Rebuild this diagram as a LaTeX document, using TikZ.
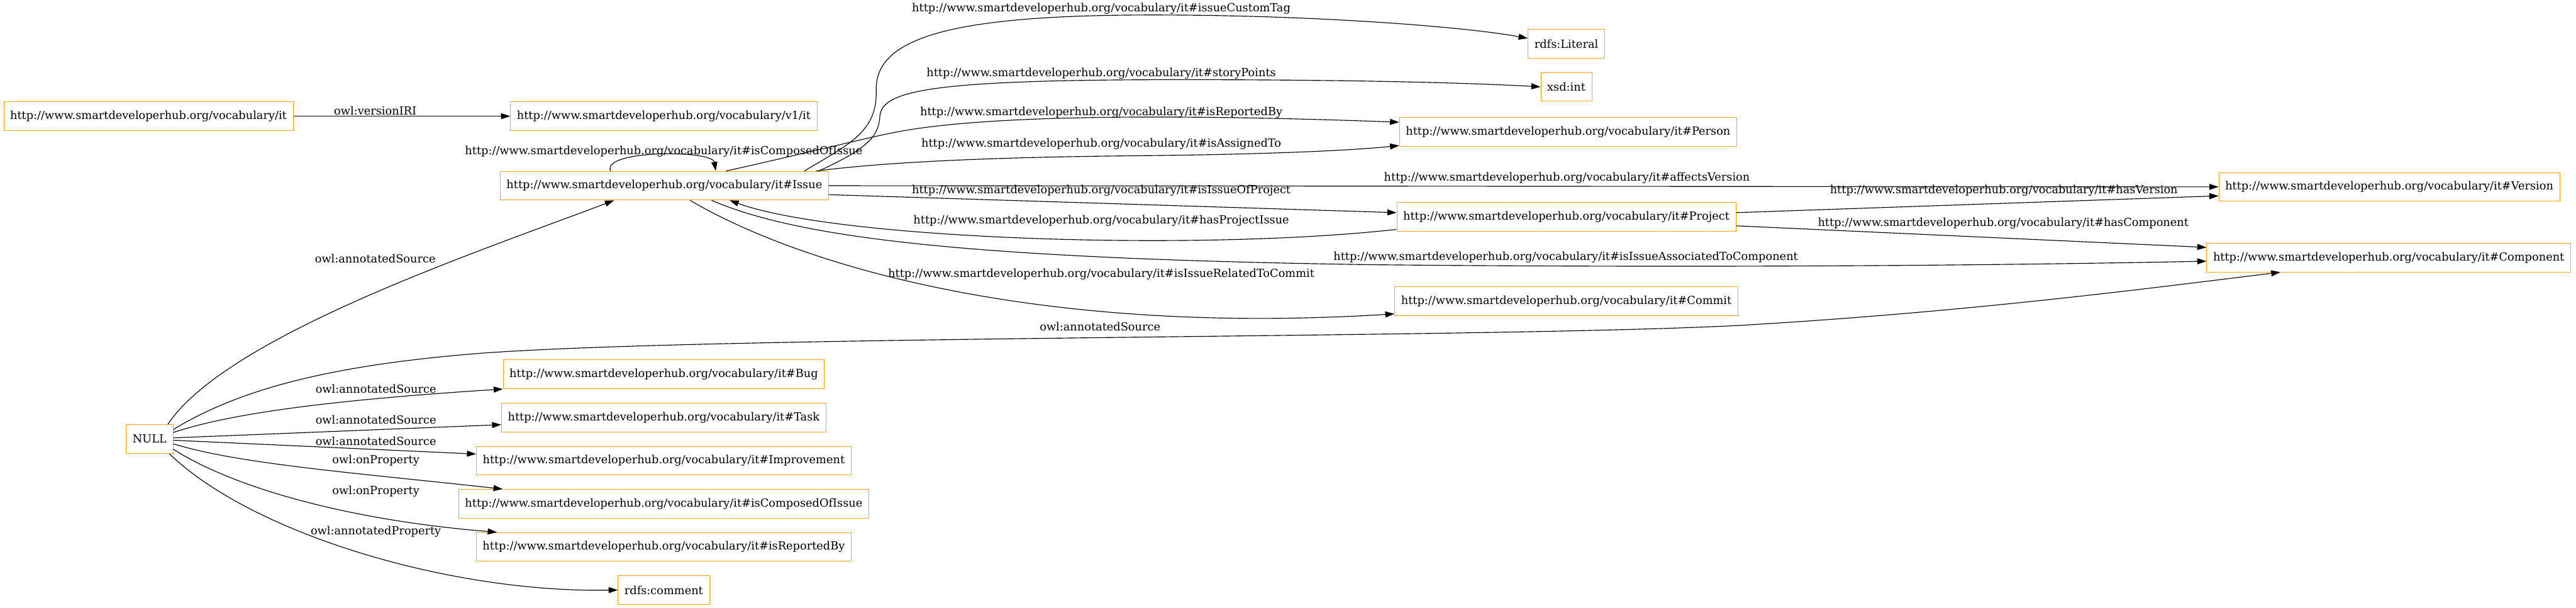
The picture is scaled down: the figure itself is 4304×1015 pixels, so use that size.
\documentclass[tikz,border=0pt]{standalone}
\usepackage{fontspec}
\setmainfont{DejaVu Serif}
\usetikzlibrary{arrows.meta}
\definecolor{gvorange}{HTML}{FFA500}
\tikzset{
  cls/.style={draw=gvorange, line width=0.75pt, minimum height=36pt, inner xsep=8pt, inner ysep=0pt, font=\fontsize{14pt}{16pt}\selectfont},
  rel/.style={draw, line width=0.9pt, -{Triangle[length=11.5pt,width=7.5pt]}},
  lbl/.style={inner sep=0pt, font=\fontsize{14pt}{16pt}\selectfont},
}
\begin{document}
\begin{tikzpicture}[x=0.75pt,y=-0.75pt]
\useasboundingbox (0,0) rectangle (4304,1015);
% classes
\node[cls] (it) at (248,194) {http://www.smartdeveloperhub.org/vocabulary/it};
\node[cls] (v1) at (1109,194) {http://www.smartdeveloperhub.org/vocabulary/v1/it};
\node[cls] (issue) at (1110,310) {http://www.smartdeveloperhub.org/vocabulary/it\#Issue};
\node[cls] (literal) at (2617,73) {rdfs:Literal};
\node[cls] (xsdint) at (2617,145) {xsd:int};
\node[cls] (person) at (2620,220) {http://www.smartdeveloperhub.org/vocabulary/it\#Person};
\node[cls] (project) at (2617,362) {http://www.smartdeveloperhub.org/vocabulary/it\#Project};
\node[cls] (commit) at (2617,503) {http://www.smartdeveloperhub.org/vocabulary/it\#Commit};
\node[cls] (version) at (3992,312) {http://www.smartdeveloperhub.org/vocabulary/it\#Version};
\node[cls] (component) at (3991,430) {http://www.smartdeveloperhub.org/vocabulary/it\#Component};
\node[cls] (null) at (250,733) {NULL};
\node[cls] (bug) at (1109,625) {http://www.smartdeveloperhub.org/vocabulary/it\#Bug};
\node[cls] (task) at (1109,697) {http://www.smartdeveloperhub.org/vocabulary/it\#Task};
\node[cls] (improvement) at (1109,769) {http://www.smartdeveloperhub.org/vocabulary/it\#Improvement};
\node[cls] (composed) at (1109,841) {http://www.smartdeveloperhub.org/vocabulary/it\#isComposedOfIssue};
\node[cls] (reported) at (1109,913) {http://www.smartdeveloperhub.org/vocabulary/it\#isReportedBy};
\node[cls] (comment) at (1109,985) {rdfs:comment};

% properties of Issue
\draw[rel] (it.east) -- (v1.west);
\draw[rel] ([xshift=-67.5pt]issue.north) .. controls (1005,250) and (1190,250) .. ([xshift=64.5pt]issue.north);
\draw[rel] ([xshift=-30.75pt]issue.north east) .. controls (1420,240) and (1466,220) .. (1464,150) .. controls (1462,60) and (1600,25) .. (1926,25) .. controls (2200,25) and (2450,45) .. ([yshift=6.75pt]literal.west);
\draw[rel] ([xshift=-12.75pt]issue.north east) .. controls (1445,250) and (1468,230) .. (1470,195) .. controls (1472,150) and (1560,133) .. (1974,133) .. controls (2250,133) and (2450,138) .. (xsdint.west);
\draw[rel] ([xshift=77.25pt]issue.north) .. controls (1350,255) and (1440,232) .. (1490,222) .. controls (1620,195) and (1900,188) .. ([yshift=12pt]person.west);
\draw[rel] ([xshift=-16pt]issue.north east) .. controls (1500,268) and (1700,262) .. (1900,260) .. controls (2100,258) and (2250,252) .. ([yshift=-17.25pt]person.west);
\draw[rel] (issue.east) -- (version.west);
\draw[rel] ([yshift=-11.25pt]issue.east) -- ([yshift=5.25pt]project.west);
\draw[rel] ([yshift=-15.75pt]project.west) .. controls (2000,420) and (1400,400) .. ([xshift=81.75pt]issue.south);
\draw[rel] ([xshift=32.25pt]issue.south) .. controls (1350,450) and (1750,560) .. ([yshift=-15.75pt]commit.west);
\draw[rel] ([xshift=59.25pt]issue.south) .. controls (1330,395) and (1600,432) .. (2300,442) .. controls (2900,448) and (3400,442) .. ([yshift=-4.5pt]component.west);
\draw[rel] ([yshift=5.25pt]project.east) -- ([yshift=-11.25pt]version.west);
\draw[rel] ([yshift=-11.25pt]project.east) -- ([yshift=12.75pt]component.west);

% annotations
\draw[rel] ([xshift=-7pt]null.north east) .. controls (380,560) and (800,420) .. ([xshift=-63pt]issue.south);
\draw[rel] ([yshift=12pt]null.east) .. controls (400,650) and (550,610) .. (800,590) .. controls (1200,560) and (2500,565) .. (2911,543) .. controls (3300,520) and (3600,480) .. ([xshift=-135.75pt]component.south);
\draw[rel] ([yshift=8.25pt]null.east) .. controls (400,685) and (600,665) .. (bug.south west);
\draw[rel] ([yshift=1.5pt]null.east) -- ([yshift=-9pt]task.west);
\draw[rel] ([yshift=-1.5pt]null.east) -- ([yshift=8.25pt]improvement.west);
\draw[rel] ([yshift=-6pt]null.east) .. controls (400,775) and (600,790) .. ([xshift=55.5pt]composed.north west);
\draw[rel] ([yshift=-12.75pt]null.east) .. controls (400,820) and (600,870) .. ([xshift=26.25pt]reported.north west);
\draw[rel] ([xshift=-5pt]null.south east) .. controls (420,890) and (750,990) .. (comment.west);

% edge labels
\node[lbl] (l-version) at (627,185) {owl:versionIRI};
\node[lbl] (l-composed) at (1109,253) {http://www.smartdeveloperhub.org/vocabulary/it\#isComposedOfIssue};
\node[lbl] (l-tag) at (1840,14) {http://www.smartdeveloperhub.org/vocabulary/it\#issueCustomTag};
\node[lbl] (l-points) at (1840,123) {http://www.smartdeveloperhub.org/vocabulary/it\#storyPoints};
\node[lbl] (l-reported) at (1840,188) {http://www.smartdeveloperhub.org/vocabulary/it\#isReportedBy};
\node[lbl] (l-assigned) at (1840,240) {http://www.smartdeveloperhub.org/vocabulary/it\#isAssignedTo};
\node[lbl] (l-affects) at (2618,297) {http://www.smartdeveloperhub.org/vocabulary/it\#affectsVersion};
\node[lbl] (l-ofproject) at (1840,318) {http://www.smartdeveloperhub.org/vocabulary/it\#isIssueOfProject};
\node[lbl] (l-projissue) at (1840,368) {http://www.smartdeveloperhub.org/vocabulary/it\#hasProjectIssue};
\node[lbl] (l-commit) at (1840,458) {http://www.smartdeveloperhub.org/vocabulary/it\#isIssueRelatedToCommit};
\node[lbl] (l-assoc) at (2616,429) {http://www.smartdeveloperhub.org/vocabulary/it\#isIssueAssociatedToComponent};
\node[lbl] (l-hasversion) at (3348,318) {http://www.smartdeveloperhub.org/vocabulary/it\#hasVersion};
\node[lbl] (l-hascomp) at (3347,373) {http://www.smartdeveloperhub.org/vocabulary/it\#hasComponent};
\node[lbl] (l-src1) at (627,432) {owl:annotatedSource};
\node[lbl] (l-src2) at (1838,545) {owl:annotatedSource};
\node[lbl] (l-src3) at (628,649) {owl:annotatedSource};
\node[lbl] (l-src4) at (628,701) {owl:annotatedSource};
\node[lbl] (l-src5) at (628,736) {owl:annotatedSource};
\node[lbl] (l-prop1) at (628,769) {owl:onProperty};
\node[lbl] (l-prop2) at (628,820) {owl:onProperty};
\node[lbl] (l-annprop) at (628,888) {owl:annotatedProperty};
\end{tikzpicture}
\end{document}
